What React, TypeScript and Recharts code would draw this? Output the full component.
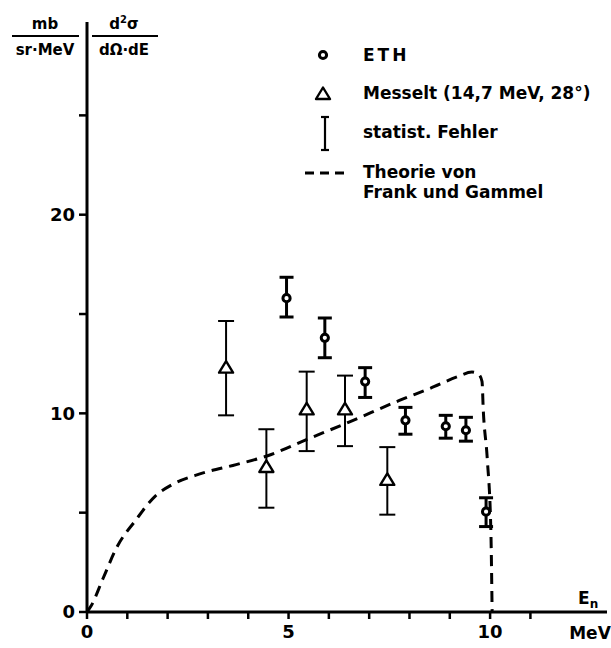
import {
  ComposedChart,
  Customized,
  ErrorBar,
  Line,
  Scatter,
  XAxis,
  YAxis,
} from "recharts";

// ETH measurements (MeV, mb/(sr·MeV)) with statistical error limits
const ethE = [4.95, 5.9, 6.9, 7.9, 8.9, 9.4, 9.9];
const ethVal = [15.8, 13.8, 11.6, 9.65, 9.35, 9.15, 5.05];
const ethLo = [14.85, 12.8, 10.8, 8.95, 8.75, 8.6, 4.3];
const ethHi = [16.85, 14.8, 12.3, 10.3, 9.9, 9.8, 5.75];

// Messelt (14,7 MeV, 28°)
const messeltE = [3.45, 4.45, 5.45, 6.4, 7.45];
const messeltVal = [12.3, 7.3, 10.2, 10.2, 6.65];
const messeltLo = [9.9, 5.25, 8.1, 8.35, 4.9];
const messeltHi = [14.65, 9.2, 12.1, 11.9, 8.3];

// Theorie von Frank und Gammel
const theoryE = [0, 0.1, 0.4, 0.75, 1.2, 1.7, 2.1, 2.8, 3.7, 4.5, 5.4, 6.5, 7.75, 8.5, 9.2, 9.55, 9.72, 9.8, 9.83, 9.93, 10.02, 10.05];
const theoryVal = [0, 0.3, 1.7, 3.3, 4.6, 5.85, 6.4, 6.95, 7.42, 7.88, 8.64, 9.56, 10.65, 11.25, 11.85, 12.08, 11.95, 11.6, 10.2, 7.7, 4.0, 0];

const xTicks = [0, 1, 2, 3, 4, 5, 6, 7, 8, 9, 10, 11];
const xLabels = [0, 5, 10];
const yTicks = [0, 5, 10, 15, 20, 25];
const yLabels = [0, 10, 20];

const FONT = "'DejaVu Sans', sans-serif";

const withErr = (xs: number[], ys: number[], lo: number[], hi: number[]) =>
  xs.map((x, i) => ({ x, y: ys[i], err: [ys[i] - lo[i], hi[i] - ys[i]] }));

const ethData = withErr(ethE, ethVal, ethLo, ethHi);
const messeltData = withErr(messeltE, messeltVal, messeltLo, messeltHi);
const theoryData = theoryE.map((x, i) => ({ x, y: theoryVal[i] }));

const Ring = ({ cx, cy }: any) => (
  <circle cx={cx} cy={cy} r={3.6} fill="#fff" stroke="#000" strokeWidth={3} />
);

const Tri = ({ cx, cy }: any) => (
  <path
    d={`M${cx},${cy - 6.5}L${cx + 7},${cy + 5}L${cx - 7},${cy + 5}Z`}
    fill="#fff"
    stroke="#000"
    strokeWidth={2.4}
    strokeLinejoin="round"
  />
);

const Annotations = () => (
  <g fontFamily={FONT} fontWeight="bold" fill="#000">
    {/* unit header */}
    <text x={45} y={29} textAnchor="middle" fontSize={15}>mb</text>
    <line x1={12} x2={79} y1={36} y2={36} stroke="#000" strokeWidth={2} />
    <text x={45} y={55} textAnchor="middle" fontSize={15}>sr·MeV</text>
    <text x={124} y={29} textAnchor="middle" fontSize={15}>
      d<tspan dy={-6} fontSize={10}>2</tspan>
      <tspan dy={6}>σ</tspan>
    </text>
    <line x1={92} x2={158} y1={36} y2={36} stroke="#000" strokeWidth={2} />
    <text x={124} y={55} textAnchor="middle" fontSize={15}>dΩ·dE</text>

    {/* legend */}
    <Ring cx={323} cy={55} />
    <text x={363} y={61} fontSize={17} letterSpacing={3}>ETH</text>
    <Tri cx={323} cy={94} />
    <text x={363} y={99} fontSize={17}>Messelt (14,7 MeV, 28°)</text>
    <line x1={325} x2={325} y1={117} y2={150} stroke="#000" strokeWidth={2.2} />
    <line x1={321} x2={329} y1={117} y2={117} stroke="#000" strokeWidth={2.2} />
    <line x1={321} x2={329} y1={150} y2={150} stroke="#000" strokeWidth={2.2} />
    <text x={363} y={138} fontSize={17}>statist. Fehler</text>
    <line x1={305} x2={345} y1={173} y2={173} stroke="#000" strokeWidth={3} strokeDasharray="9 6" />
    <text x={363} y={178} fontSize={17}>Theorie von</text>
    <text x={363} y={198} fontSize={17}>Frank und Gammel</text>

    {/* axis names */}
    <text x={578} y={604} fontSize={17}>
      E<tspan dy={4} fontSize={12}>n</tspan>
    </text>
    <text x={590} y={639} textAnchor="middle" fontSize={17}>MeV</text>
  </g>
);

export default function App() {
  return (
    <div style={{ position: "absolute", left: 0, top: 0, width: 611, height: 648, background: "#fff" }}>
      <ComposedChart width={611} height={648} margin={{ top: 22, right: 4, left: 27, bottom: 6 }}>
        <XAxis
          dataKey="x"
          type="number"
          domain={[0, 12.9]}
          ticks={xTicks}
          tickFormatter={(v) => (xLabels.includes(v) ? String(v) : "")}
          allowDataOverflow
          height={30}
          tickSize={7}
          tickMargin={6}
          axisLine={{ stroke: "#000", strokeWidth: 3 }}
          tickLine={{ stroke: "#000", strokeWidth: 2.5 }}
          tick={{ fill: "#000", fontSize: 18, fontWeight: "bold", fontFamily: FONT }}
        />
        <YAxis
          type="number"
          domain={[0, 29.7]}
          ticks={yTicks}
          tickFormatter={(v) => (yLabels.includes(v) ? String(v) : "")}
          allowDataOverflow
          width={60}
          tickSize={8}
          tickMargin={4}
          axisLine={{ stroke: "#000", strokeWidth: 3 }}
          tickLine={{ stroke: "#000", strokeWidth: 2.5 }}
          tick={{ fill: "#000", fontSize: 18, fontWeight: "bold", fontFamily: FONT }}
        />
        <Line
          data={theoryData}
          dataKey="y"
          type="monotone"
          stroke="#000"
          strokeWidth={3}
          strokeDasharray="11 7"
          dot={false}
          activeDot={false}
          isAnimationActive={false}
        />
        <Scatter data={messeltData} dataKey="y" shape={<Tri />} isAnimationActive={false}>
          <ErrorBar dataKey="err" direction="y" width={8} stroke="#000" strokeWidth={2} />
        </Scatter>
        <Scatter data={ethData} dataKey="y" shape={<Ring />} isAnimationActive={false}>
          <ErrorBar dataKey="err" direction="y" width={7} stroke="#000" strokeWidth={3} />
        </Scatter>
        <Customized component={<Annotations />} />
      </ComposedChart>
    </div>
  );
}
